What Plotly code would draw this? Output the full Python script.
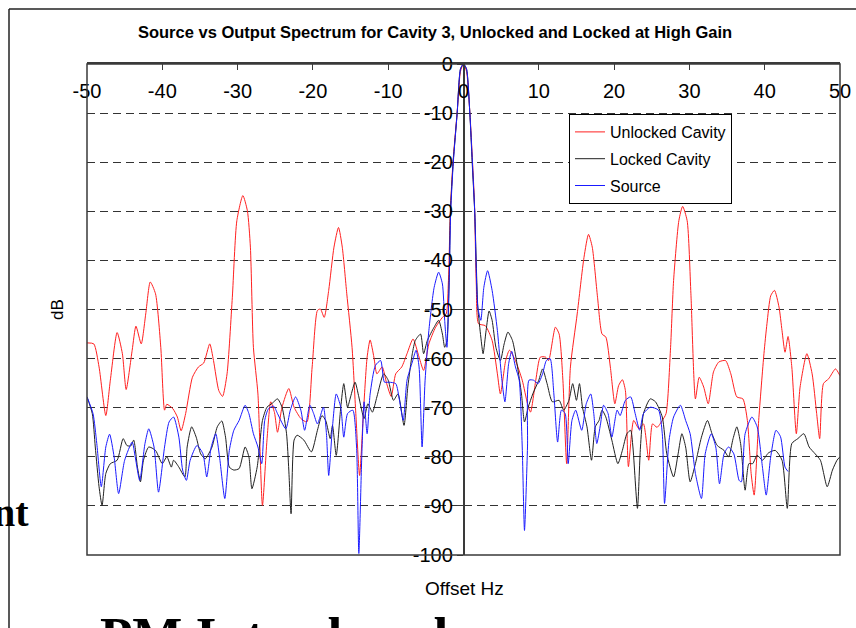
import plotly.graph_objects as go

# ---------------- data ----------------
unlocked_x = [-50, -49.1, -48.4, -47.5, -46.9, -46.0, -45.3, -44.8, -44.0, -43.5, -42.8, -42.2, -41.6, -40.9,
              -40.2, -39.7, -39.4, -38.6, -38.0, -37.5, -36.9, -36.0, -35.2, -34.5, -33.7, -33.2, -32.5, -32.0,
              -31.4, -30.7, -30.1, -29.3, -28.7, -28.3, -27.9, -27.3, -26.7, -26.1, -25.6, -25.1, -24.7, -24.1,
              -23.2, -22.5, -21.6, -20.8, -20.1, -19.4, -19.0, -18.5, -17.9, -17.2, -16.6, -16.1, -15.5, -14.8,
              -14.3, -13.8, -13.3, -12.8, -12.4, -11.9, -11.5, -10.8, -10.2, -9.6, -9.0, -8.2, -7.5, -6.7, -5.9,
              -5.3, -4.6, -3.7, -2.8, -2.3, -2.0, -1.75, -1.4, -0.85, -0.4, 0, 0.4, 0.85, 1.2, 1.45, 1.7, 2.0,
              2.9, 3.8, 4.5, 4.9, 5.6, 6.1, 6.9, 7.8, 8.5, 8.9, 9.6, 10.2, 10.9, 11.3, 12.2, 12.7, 13.2, 13.7,
              14.2, 15.1, 16.0, 16.6, 17.1, 17.8, 18.4, 18.9, 19.5, 20.1, 20.6, 21.1, 21.5, 21.9, 22.6, 23.3,
              23.9, 24.6, 25.1, 25.7, 26.4, 26.9, 27.5, 27.9, 28.6, 29.1, 29.7, 30.2, 30.8, 31.3, 31.9, 32.5,
              33.2, 33.9, 34.8, 35.5, 36.3, 37.1, 37.7, 38.2, 38.6, 39.2, 39.9, 40.3, 40.8, 41.3, 41.9, 42.3,
              42.7, 43.1, 43.6, 44.2, 44.7, 45.6, 46.3, 46.9, 47.3, 47.8, 48.5, 49.4, 50]
unlocked_db = [-56.8, -57, -61.7, -71.6, -64.4, -54.7, -59, -66.3, -58.3, -53.4, -57, -50.9, -44.4, -46.8,
               -57.7, -70.5, -69.3, -70.2, -71.9, -74.7, -71.2, -63.8, -61.7, -60.9, -57, -60.4, -66.5, -67.7,
               -63.1, -47.5, -31.9, -26.8, -29.9, -37.3, -57.7, -67.2, -89.9, -76.6, -68.8, -71, -75, -69.9,
               -66.1, -69.9, -72.2, -72.9, -61.7, -50.2, -49.9, -51.6, -46.1, -37.3, -33.3, -37.3, -46.8, -57.7,
               -71.2, -83.8, -71.2, -59.7, -56.2, -59.7, -63.1, -61.7, -65.1, -67.7, -63.1, -61.7, -59, -56, -59.7,
               -62.4, -57, -53.6, -51.6, -50.9, -44.1, -30, -20, -10, -1.5, 0, -1.5, -10, -20, -28, -45, -52.9,
               -53.3, -56.3, -63.1, -67.2, -60.4, -58.3, -60.4, -64.4, -69.2, -70.9, -64.4, -59.7, -59.7, -60.4,
               -53.6, -55, -64.4, -81.4, -61.7, -50.9, -39.4, -34.7, -37.3, -47.5, -55, -55.6, -61.7, -69.2,
               -65.5, -64.3, -66.5, -82, -72.6, -74.3, -73.3, -80.7, -73.3, -74, -72.6, -71.2, -57.7, -44.1,
               -31.9, -29, -31.9, -46.8, -68.2, -63.8, -65.8, -69.2, -62.7, -60.7, -60.4, -63.1, -67.8, -68.2,
               -72.6, -83.4, -87.8, -72.6, -59, -52.9, -47.2, -46.1, -49.5, -54.3, -58.7, -55.5, -61.7, -75.3,
               -65.8, -59, -63.1, -71.2, -76.3, -65.1, -64.1, -62.1, -63.5]

locked_x = [-50, -49.3, -48.9, -48.4, -48.0, -47.5, -46.9, -46.0, -45.2, -44.7, -44.2, -43.8, -43.3, -42.9,
            -42.5, -41.8, -40.9, -40.0, -39.4, -38.8, -38.5, -37.8, -37.0, -36.7, -36.1, -35.5, -34.9, -34.3,
            -33.4, -32.7, -32.1, -31.6, -31.1, -30.5, -29.8, -29.0, -28.5, -28.1, -27.4, -26.7, -26.1, -25.4,
            -24.7, -24.1, -23.5, -23.2, -22.9, -22.5, -22.1, -21.2, -20.2, -19.4, -18.8, -18.3, -17.7, -17.4,
            -16.9, -16.3, -15.9, -15.4, -15.0, -14.4, -13.9, -13.2, -12.7, -12.1, -11.5, -10.6, -10.0, -9.3,
            -8.7, -7.9, -7.4, -6.8, -6.4, -5.7, -5.3, -4.8, -3.9, -3.3, -2.8, -2.5, -2.2, -1.9, -1.73, -1.37,
            -0.84, -0.4, 0, 0.4, 0.84, 1.15, 1.5, 1.9, 2.3, 2.6, 3.0, 3.4, 3.8, 4.3, 4.9, 5.4, 5.9, 6.5, 7.1,
            7.7, 8.1, 8.6, 9.2, 10.0, 10.5, 11.1, 11.8, 12.7, 13.3, 14.0, 14.5, 15.0, 15.4, 15.8, 16.4, 17.0,
            17.5, 18.0, 18.4, 18.9, 19.7, 20.5, 21.1, 21.7, 22.2, 22.5, 23.1, 23.5, 23.9, 24.8, 25.5, 26.4,
            27.0, 27.9, 28.5, 29.0, 29.5, 30.1, 30.8, 31.6, 32.4, 33.0, 33.7, 34.6, 35.2, 35.8, 36.3, 36.8,
            37.4, 37.9, 38.4, 39.0, 39.7, 40.5, 41.4, 42.3, 43.0, 43.6, 44.4, 45.2, 45.9, 46.7, 47.4, 48.3,
            49.0, 49.6, 50]
locked_db = [-67.8, -71.2, -78, -86.1, -89.9, -83.4, -81.4, -80.7, -76.3, -77.7, -77.8, -76.6, -82.1, -85.1,
             -80.7, -78, -78.7, -81.4, -80, -82.1, -80.7, -82.1, -84.1, -78, -73.9, -76, -79.4, -80.4,
             -78, -73.9, -72.7, -76, -82.1, -82.7, -82.4, -78, -80, -86.5, -82.1, -72.6, -69.9, -69.1,
             -68.2, -69.9, -75.3, -82.7, -91.6, -76.6, -75.6, -76.6, -79, -74.6, -71.6, -72.6, -76.3, -73.6,
             -79.7, -69.9, -65.1, -69.9, -67.8, -64.8, -67.8, -72.2, -69.2, -70.9, -67.8, -63.1, -64.4, -68.5,
             -67.2, -73.6, -65.8, -59, -56.3, -55, -59, -56.3, -53.6, -52.2, -55, -57.7, -56.3, -44, -30, -20,
             -10, -1, 0, -1, -10, -20, -30.5, -49.5, -55.6, -59, -54.3, -50.3, -52.2, -57.7, -60.4, -57, -54.6,
             -56.3, -61, -67.2, -72.9, -69.9, -67.2, -64.4, -62.1, -65.1, -68.8, -68.5, -70.5, -68.5, -65.1,
             -68.5, -65.1, -69.9, -73.9, -80.7, -73.9, -72.6, -70.5, -71.9, -76.6, -81.4, -78.7, -75.3, -74.6,
             -78, -90.5, -78, -71.2, -68.2, -68.8, -71.9, -79.4, -84.1, -79.4, -75.3, -78, -85.1, -81.4, -76,
             -72.6, -75.3, -77.7, -78.7, -80, -76.3, -73.9, -77.3, -86.8, -81.4, -81.4, -79.7, -80.7, -79.2,
             -78.7, -80.7, -90.5, -77.3, -76.3, -75.3, -78, -79.4, -80.7, -86.1, -82.7, -80.7, -80]

source_x = [-50, -49.2, -48.7, -48.1, -47.5, -47.0, -46.4, -45.8, -45.0, -44.0, -43.6, -43.0, -42.3, -41.8,
            -41.1, -40.5, -39.7, -39.1, -38.5, -37.8, -37.3, -36.8, -36.3, -35.4, -34.6, -34.1, -33.5, -32.9,
            -32.4, -31.7, -31.1, -30.5, -29.8, -29.0, -28.5, -27.9, -27.3, -26.8, -26.4, -25.9, -25.2, -24.7,
            -23.6, -23.0, -22.3, -21.6, -21.1, -20.4, -19.9, -19.4, -18.6, -18.2, -17.9, -17.4, -16.9, -16.3,
            -15.9, -15.4, -14.7, -14.2, -13.9, -13.5, -13.2, -12.8, -12.4, -11.7, -11.0, -10.5, -9.9, -9.0,
            -8.5, -8.0, -7.5, -6.8, -6.3, -5.9, -5.5, -5.1, -4.6, -3.9, -3.3, -2.8, -2.5, -2.2, -1.9, -1.7,
            -1.35, -0.84, -0.4, 0, 0.4, 0.84, 1.18, 1.5, 1.9, 2.3, 2.7, 3.2, 3.8, 4.5, 5.1, 5.5, 6.0, 6.4, 6.9,
            7.4, 7.8, 8.1, 8.5, 8.7, 9.3, 9.9, 10.5, 11.0, 11.5, 12.0, 12.5, 13.0, 13.5, 13.9, 14.4, 14.9,
            15.7, 16.3, 16.9, 17.3, 17.7, 18.2, 18.6, 19.2, 19.7, 20.4, 20.8, 21.5, 22.2, 22.8, 23.4, 23.9,
            24.8, 25.9, 26.4, 26.7, 27.3, 27.9, 28.8, 29.5, 30.1, 30.8, 31.6, 32.1, 32.9, 33.5, 34.0, 34.6,
            35.2, 35.9, 36.6, 36.9, 37.4, 38.3, 39.0, 39.7, 40.2, 40.8, 41.5, 42.1, 42.7, 43.1]
source_db = [-67.8, -71.2, -77.3, -86.1, -78, -75.4, -80, -87.5, -80.7, -77, -80, -84.8, -77.3, -74.3,
             -78, -87.2, -78, -72.9, -71.9, -76, -82.7, -84.8, -80.7, -77.7, -79.4, -84.1, -78, -75.3,
             -80, -88.5, -78.7, -74.6, -72.6, -69.5, -71.2, -75.3, -78, -81.4, -72.6, -70.2, -69.7, -71.2,
             -74.3, -70.5, -67.8, -70.5, -74.6, -69.5, -71.2, -73.3, -69.9, -75.3, -83.8, -73.9, -67.2, -69.9,
             -76, -71.2, -70.5, -78, -99.7, -79.4, -68.8, -75.3, -67.2, -61.4, -60.4, -64.8, -64.8, -65.1,
             -68.5, -72.6, -64.4, -60.7, -58.3, -61.7, -78, -64.4, -54.3, -45.5, -42.4, -44.8, -52.2, -57.7,
             -44, -30, -20, -10, -1, 0, -1, -10, -20, -30.5, -49.5, -52.2, -45.5, -42.1, -46.1, -54.3, -64.4,
             -68.8, -61, -58.5, -61.7, -64.4, -78, -95, -78, -64.4, -64.4, -65.1, -63.1, -60.4, -60, -67.2,
             -77, -70.5, -71.2, -81.4, -72.6, -70.5, -74.6, -69.2, -67.2, -71.2, -77.3, -73.3, -69.5, -71.2,
             -76, -70.5, -71.6, -68.5, -67.8, -71.2, -74.6, -71.2, -69.9, -70.5, -75.3, -89.5, -76.6, -71.9,
             -69.5, -72.6, -75.3, -83.4, -88.5, -79.4, -75.3, -78, -85.5, -79.4, -78, -79.4, -84.8, -85.1,
             -75.3, -71.9, -73.9, -82.1, -87.8, -80, -74.6, -75.9, -82.1, -83]

x_ticks = [-50, -40, -30, -20, -10, 0, 10, 20, 30, 40, 50]
y_ticks = [-100, -90, -80, -70, -60, -50, -40, -30, -20, -10, 0]

# ---------------- figure ----------------
W, H = 856, 628
L, R, T, B = 87, 16, 64, 73
pw, ph = W - L - R, H - T - B


def px(xp):
    return (xp - L) / pw


def py(yp):
    return (H - B - yp) / ph


FONT = "Liberation Sans, Arial, sans-serif"
SERIF = "Liberation Serif, Times New Roman, serif"
AXC = "#3a3a3a"

fig = go.Figure()
for name, xs, ys, col in [("Unlocked Cavity", unlocked_x, unlocked_db, "#ff2020"),
                          ("Locked Cavity", locked_x, locked_db, "#202020"),
                          ("Source", source_x, source_db, "#1a1aff")]:
    fig.add_trace(go.Scatter(x=xs, y=ys, mode="lines", name=name, legendgroup=name,
                             line=dict(color=col, width=1, shape="spline", smoothing=0.6)))

fig.update_layout(
    width=W, height=H,
    margin=dict(l=L, r=R, t=T, b=B, autoexpand=False),
    paper_bgcolor="white", plot_bgcolor="white",
    font=dict(family=FONT, color="black"),
    title=dict(text="<b>Source vs Output Spectrum for Cavity 3, Unlocked and Locked at High Gain</b>",
               x=435 / W, xanchor="center", y=1 - 32 / H, yanchor="middle",
               font=dict(size=16.5, family=FONT, color="black")),
    showlegend=True,
    legend=dict(x=px(569), y=py(114), xanchor="left", yanchor="top",
                bordercolor="black", borderwidth=1, bgcolor="white",
                font=dict(size=16, family=FONT, color="black"),
                traceorder="grouped", tracegroupgap=3,
                itemwidth=30),
    xaxis=dict(range=[-50, 50], side="top", tickvals=x_ticks, ticktext=[str(v) for v in x_ticks],
               ticks="inside", ticklen=6, tickcolor=AXC, ticklabelposition="inside",
               ticklabeloverflow="allow", ticklabelstandoff=15,
               tickfont=dict(size=20, family=FONT, color="black"),
               showline=True, linecolor=AXC, linewidth=1.5,
               showgrid=False, zeroline=False, fixedrange=True),
    yaxis=dict(range=[-100, 0], anchor="free", position=0.5, side="left",
               tickvals=y_ticks, ticktext=[str(v) for v in y_ticks],
               ticks="outside", ticklen=6, tickcolor=AXC,
               tickfont=dict(size=20, family=FONT, color="black"),
               showline=True, linecolor=AXC, linewidth=1.5,
               showgrid=True, gridcolor="#333333", gridwidth=1.3, griddash="8px,5px",
               zeroline=False, fixedrange=True),
)

# plot frame
fig.add_shape(type="rect", xref="paper", yref="paper", x0=0, x1=1, y0=0, y1=1,
              line=dict(color=AXC, width=1.5), layer="above")
# slide frame lines (outside chart)
fig.add_shape(type="line", xref="paper", yref="paper", x0=px(9), x1=px(9), y0=py(H + 2), y1=py(9),
              line=dict(color="#222222", width=1.5))
fig.add_shape(type="line", xref="paper", yref="paper", x0=px(9), x1=px(W + 2), y0=py(9), y1=py(9),
              line=dict(color="#222222", width=1.5))

fig.add_annotation(text="dB", xref="paper", yref="paper", x=px(57), y=py(310), showarrow=False,
                   xanchor="center", yanchor="middle",
                   textangle=-90, font=dict(size=17, family=FONT, color="black"))
fig.add_annotation(text="Offset Hz", xref="paper", yref="paper", x=px(464), y=py(588), showarrow=False,
                   xanchor="center", yanchor="middle",
                   font=dict(size=19, family=FONT, color="black"))
fig.add_annotation(text="<b>nt</b>", xref="paper", yref="paper", x=px(31), y=py(512), xanchor="right",
                   yanchor="middle", showarrow=False,
                   font=dict(size=40, family=SERIF, color="black"))
fig.add_annotation(text="<b>PM Introduced</b>", xref="paper", yref="paper", x=px(98), y=py(605),
                   xanchor="left", yanchor="top", showarrow=False,
                   font=dict(size=53, family=SERIF, color="black"))

fig.write_html("out.html")
